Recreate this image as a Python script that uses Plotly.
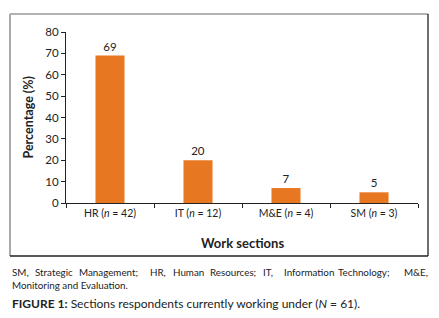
import plotly.graph_objects as go

categories = ["HR (<i>n</i> = 42)", "IT (<i>n</i> = 12)", "M&E (<i>n</i> = 4)", "SM (<i>n</i> = 3)"]
values = [69, 20, 7, 5]
y_ticks = [0, 10, 20, 30, 40, 50, 60, 70, 80]
note_words = ["SM,", "Strategic", "Management;", "HR,", "Human", "Resources;", "IT,",
              "Information", "Technology;", "M&E,"]
note_word_x = [10, 33, 77, 148, 171, 208, 261, 282, 336, 402]

W, H = 439, 318
OFF = 8  # page body margin
# plot area in page pixels
L, R, T, B = 66, 418, 32, 203
pw, ph = R - L, B - T

def px(x):
    return (x - L) / pw

def py(y):
    return (B - y) / ph

FONT = "Lato, 'Open Sans', sans-serif"
COLOR = "#E87722"
TXT = "#222"

fig = go.Figure(go.Bar(
    x=categories, y=values, marker=dict(color=COLOR, line=dict(width=0)),
    width=0.33, text=[str(v) for v in values], textposition="outside",
    textfont=dict(size=11.5, color=TXT, family=FONT), cliponaxis=False,
))

fig.update_layout(
    width=W, height=H,
    margin=dict(l=L - OFF, r=W - (R - OFF), t=T - OFF, b=H - (B - OFF), autoexpand=False),
    paper_bgcolor="white", plot_bgcolor="white", showlegend=False,
    font=dict(family=FONT, color=TXT),
    xaxis=dict(showline=True, linecolor=TXT, linewidth=1, ticks="outside",
               tickson="boundaries", ticklen=4, tickcolor=TXT,
               tickfont=dict(size=10.5, family=FONT, color=TXT), showgrid=False),
    yaxis=dict(range=[0, 80], tickvals=y_ticks, showline=True, linecolor=TXT,
               linewidth=1, ticks="outside", ticklen=4, tickcolor=TXT,
               tickfont=dict(size=11.5, family=FONT, color=TXT), showgrid=False,
               zeroline=False),
)

# border box
bx0, bx1, by0, by1 = 10, 428, 14, 256
fig.add_shape(type="line", xref="paper", yref="paper", x0=px(bx0), x1=px(bx1), y0=py(by0), y1=py(by0), line=dict(color="#999", width=1.3))
fig.add_shape(type="line", xref="paper", yref="paper", x0=px(bx0), x1=px(bx0), y0=py(by0), y1=py(by1), line=dict(color="#aaa", width=2))
fig.add_shape(type="line", xref="paper", yref="paper", x0=px(bx1), x1=px(bx1), y0=py(by0), y1=py(by1), line=dict(color="#222", width=1.3))
fig.add_shape(type="line", xref="paper", yref="paper", x0=px(bx0), x1=px(bx1), y0=py(by1), y1=py(by1), line=dict(color="#222", width=1.5))

# axis titles
fig.add_annotation(xref="paper", yref="paper", x=px(27.5), y=py(118), xanchor="center", yanchor="middle",
                   text="<b>Percentage (%)</b>", textangle=-90, showarrow=False,
                   font=dict(size=12.5, family=FONT, color=TXT))
fig.add_annotation(xref="paper", yref="paper", x=px(242), y=py(243), xanchor="center", yanchor="middle",
                   text="<b>Work sections</b>",
                   showarrow=False, font=dict(size=13, family=FONT, color=TXT))

# caption notes (justified line placed word by word)
for w, xw in zip(note_words, note_word_x):
    fig.add_annotation(xref="paper", yref="paper", x=px(xw), y=py(272), xanchor="left", yanchor="middle",
                       text=w, showarrow=False, font=dict(size=9.8, family=FONT, color=TXT))
fig.add_annotation(xref="paper", yref="paper", x=px(10), y=py(284.5), xanchor="left", yanchor="middle",
                   text="Monitoring and Evaluation.",
                   showarrow=False, font=dict(size=9.8, family=FONT, color=TXT))
fig.add_annotation(xref="paper", yref="paper", x=px(10), y=py(303), xanchor="left", yanchor="middle",
                   text="<b>FIGURE 1:</b> Sections respondents currently working under (<i>N</i> = 61).",
                   showarrow=False, font=dict(size=12, family=FONT, color=TXT))

fig.write_html("out.html")
